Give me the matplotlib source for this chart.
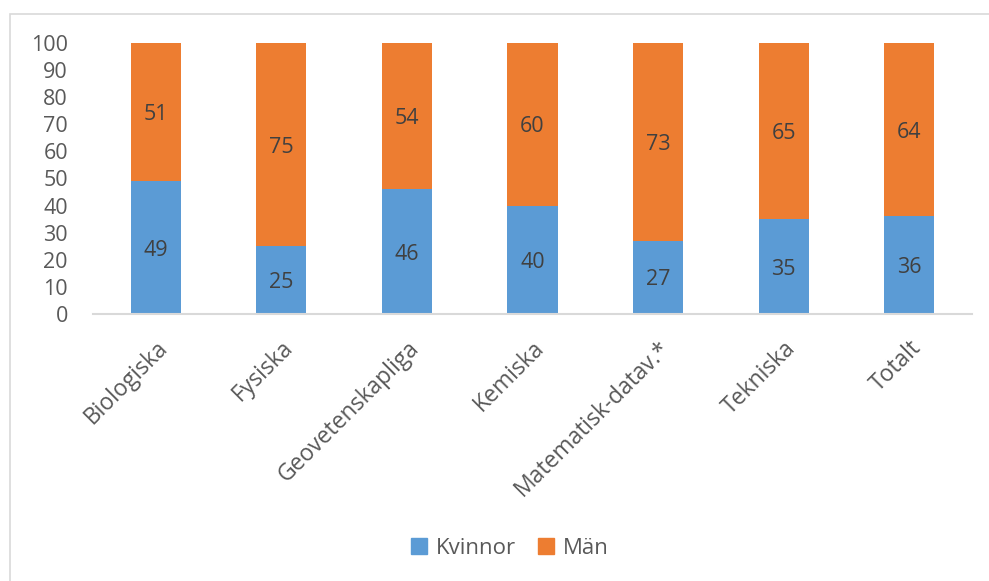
import matplotlib
matplotlib.use("Agg")
import matplotlib.pyplot as plt
from matplotlib.patches import Rectangle, Patch
import numpy as np

categories = ["Biologiska", "Fysiska", "Geovetenskapliga", "Kemiska",
              "Matematisk-datav.*", "Tekniska", "Totalt"]
kvinnor = [49, 25, 46, 40, 27, 35, 36]
man = [51, 75, 54, 60, 73, 65, 64]
yticks = list(range(0, 101, 10))

plt.rcParams['font.family'] = ['Open Sans', 'DejaVu Sans']

blue = "#5B9BD5"
orange = "#ED7D31"
tick_col = "#595959"
lab_col = "#404040"

fig = plt.figure(figsize=(9.89, 5.81), dpi=100)
fig.patches.append(Rectangle((10/989, -0.1), 1.2, 1.1 - 14/581, transform=fig.transFigure,
                             fill=False, edgecolor="#D9D9D9", linewidth=1.2))
ax = fig.add_axes([93/989, 1 - 314/581, (972-93)/989, (314-43)/581])

x = np.arange(len(categories))
w = 0.4
ax.bar(x, kvinnor, w, color=blue, label="Kvinnor")
ax.bar(x, man, w, bottom=kvinnor, color=orange, label="Män")
for xi, k, m in zip(x, kvinnor, man):
    ax.text(xi, k / 2, str(k), ha="center", va="center_baseline", fontsize=15.5, color=lab_col)
    ax.text(xi, k + m / 2, str(m), ha="center", va="center_baseline", fontsize=15.5, color=lab_col)

ax.set_xlim(-0.5, len(categories) - 0.5)
ax.set_ylim(0, 100)
ax.set_yticks(yticks)
ax.set_yticklabels([str(t) for t in yticks], fontsize=15.5, color=tick_col)
ax.set_xticks(x)
ax.set_xticklabels(categories, rotation=45, ha="right", rotation_mode="anchor",
                   fontsize=16.5, color=tick_col)
ax.tick_params(axis="both", length=0)
ax.tick_params(axis="y", pad=18)
ax.tick_params(axis="x", pad=16)
for s in ["top", "right", "left"]:
    ax.spines[s].set_visible(False)
ax.spines["bottom"].set_color("#D9D9D9")
ax.spines["bottom"].set_linewidth(1.5)

handles = [Patch(color=blue, label="Kvinnor"), Patch(color=orange, label="Män")]
leg = fig.legend(handles=handles, loc="center", bbox_to_anchor=(510/989, 1 - 548/581),
                 ncol=2, frameon=False, fontsize=16, handlelength=0.7, handleheight=0.7,
                 handletextpad=0.4, columnspacing=1.0)
for t in leg.get_texts():
    t.set_color(tick_col)

fig.savefig("out.png", dpi=100)
